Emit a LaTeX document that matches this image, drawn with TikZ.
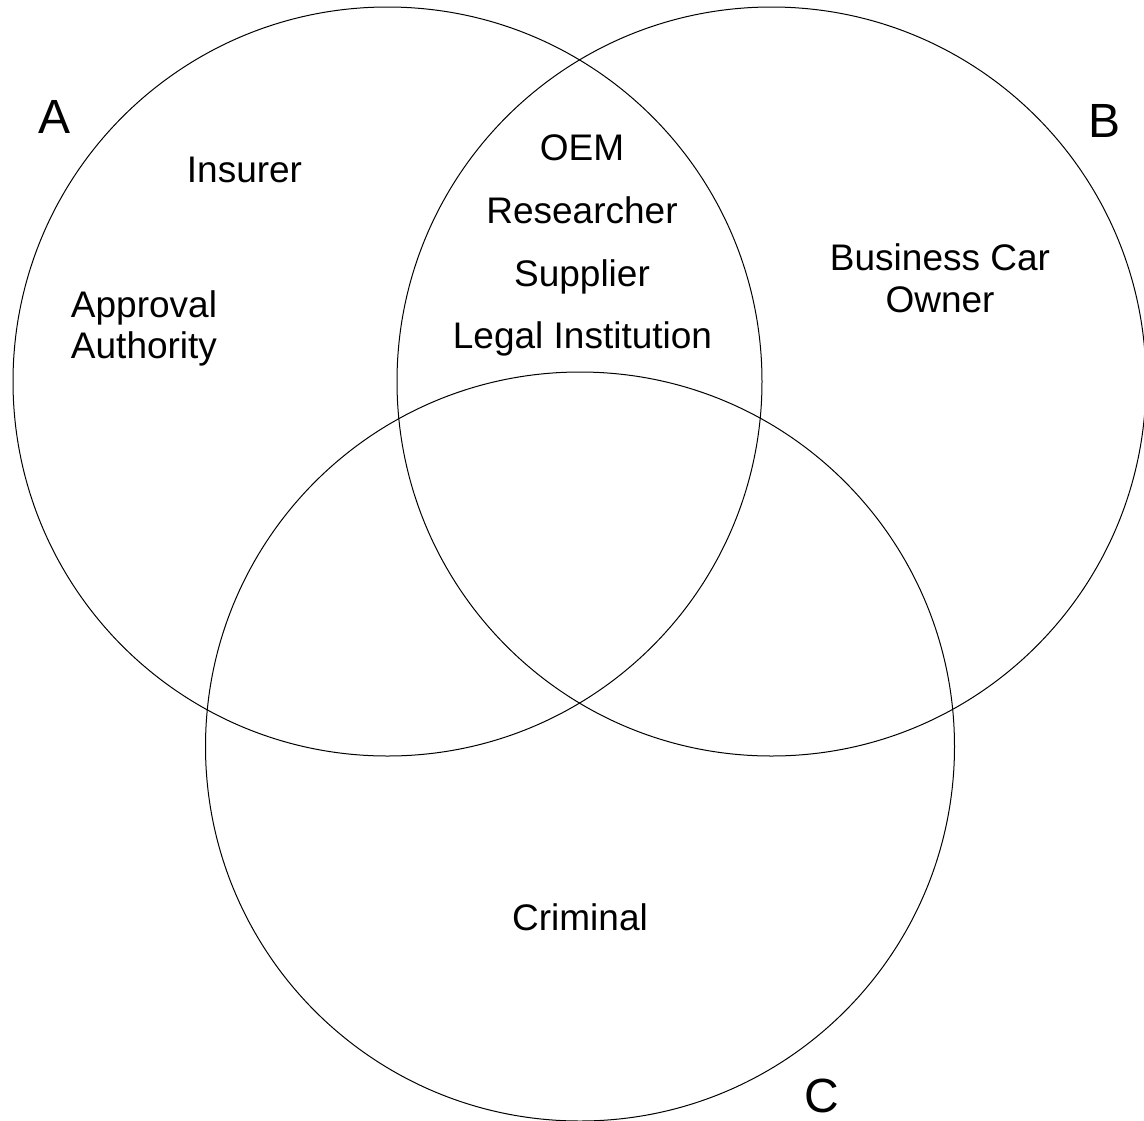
\documentclass[tikz,border=0pt]{standalone}
\usepackage{fontspec}
\setmainfont{Liberation Sans}
\usetikzlibrary{positioning}

\begin{document}
\begin{tikzpicture}[x=1pt,y=-1pt,
    role/.style={font=\fontsize{37}{41.6}\selectfont,inner sep=0pt,anchor=base},
    setname/.style={font=\fontsize{48}{54}\selectfont,inner sep=0pt,anchor=base}]
  \useasboundingbox (0,0) rectangle (1144,1120);
  \coordinate (a) at (387.5,381.5);
  \coordinate (b) at (771.5,381.5);
  \coordinate (c) at (580,746.5);
  \draw[line width=1pt] (a) circle[radius=374.5pt];
  \draw[line width=1pt] (b) circle[radius=374.5pt];
  \draw[line width=1pt] (c) circle[radius=374.5pt];
  \node[setname] (A) at (55,133) {A};
  \node[setname] (B) at (1104,137) {B};
  \node[setname] (C) at (822,1112) {C};
  \node[role] (1) at (244.5,182) {Insurer};
  \node[role,anchor=center,align=center] (2) at (144,328.4) {Approval\\Authority};
  \node[role] (3) at (582,160) {OEM};
  \node[role] (4) at (582,223) {Researcher};
  \node[role] (5) at (582,286) {Supplier};
  \node[role] (6) at (582.5,348) {Legal Institution};
  \node[role,anchor=center,align=center] (7) at (940,278) {Business Car\\Owner};
  \node[role] (8) at (580,930) {Criminal};
\end{tikzpicture}
\end{document}
